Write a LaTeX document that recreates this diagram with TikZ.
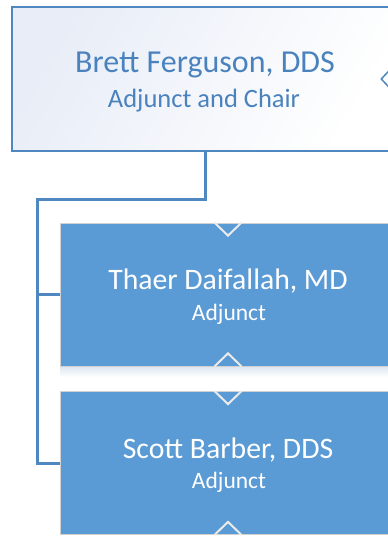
\documentclass[tikz,border=0pt]{standalone}
\usepackage{fontspec}
\setmainfont{Carlito}
\usetikzlibrary{shapes.geometric}
\definecolor{hdblue}{HTML}{4F87C0}
\definecolor{txtblue}{HTML}{4A82BE}
\definecolor{boxblue}{HTML}{5B9BD5}
\definecolor{lav}{HTML}{E8EDF7}
\definecolor{shadowc}{HTML}{DCE6F1}
\tikzset{
  headbox/.style={draw=hdblue, line width=2pt, minimum width=386pt, minimum height=144pt, inner sep=0pt, left color=lav, right color=white, shading angle=60},
  staffbox/.style={draw=black!18, line width=0.8pt, fill=boxblue, minimum width=336pt, minimum height=143pt, inner sep=0pt},
  conn/.style={draw=hdblue, line width=3pt},
  notch/.style={draw=white!92!black, line width=2pt, line join=miter},
  bigname/.style={anchor=base, inner sep=0pt, font=\fontsize{32}{36}\selectfont},
  rolename/.style={anchor=base, inner sep=0pt, font=\fontsize{26.5}{30}\selectfont},
  smallname/.style={anchor=base, inner sep=0pt, font=\fontsize{29.7}{34}\selectfont, text=white},
  smallrole/.style={anchor=base, inner sep=0pt, font=\fontsize{23.5}{28}\selectfont, text=white},
}
\begin{document}
\begin{tikzpicture}[x=1pt,y=-1pt]
\useasboundingbox (0,0) rectangle (388,536);
\clip (0,0) rectangle (388,536);
% shadows
\shade[top color=shadowc, bottom color=white] (60,366) rectangle (396,377);
% boxes
\node[headbox] (top) at (205,79) {};
\node[staffbox] (thaer) at (228,294.5) {};
\node[staffbox] (scott) at (228,463) {};
% connectors
\coordinate (elbow) at (37,199);
\draw[conn] (top.south) |- (elbow) |- (scott.west);
\draw[conn] (elbow |- thaer.west) -- (thaer.west);
% side diamond
\node[diamond, draw=hdblue, line width=1.5pt, fill=white, minimum width=14pt, minimum height=15pt, inner sep=0pt] (side) at (388,79) {};
% notches
\draw[notch] ([xshift=-13.5pt]thaer.north) -- ([yshift=-13pt]thaer.north) -- ([xshift=13.5pt]thaer.north);
\draw[notch] ([xshift=-13.5pt]thaer.south) -- ([yshift=13pt]thaer.south) -- ([xshift=13.5pt]thaer.south);
\draw[notch] ([xshift=-13.5pt]scott.north) -- ([yshift=-13pt]scott.north) -- ([xshift=13.5pt]scott.north);
\draw[notch] ([xshift=-13.5pt]scott.south) -- ([yshift=13pt]scott.south) -- ([xshift=13.5pt]scott.south);
% texts
\node[bigname, text=txtblue] (topname) at (205,72) {Brett Ferguson, DDS};
\node[rolename, text=txtblue] (toprole) at (204,107) {Adjunct and Chair};
\node[smallname] (thaername) at (228,289) {Thaer Daifallah, MD};
\node[smallrole] (thaerrole) at (229,320) {Adjunct};
\node[smallname] (scottname) at (228,458) {Scott Barber, DDS};
\node[smallrole] (scottrole) at (229,488) {Adjunct};
\end{tikzpicture}
\end{document}
